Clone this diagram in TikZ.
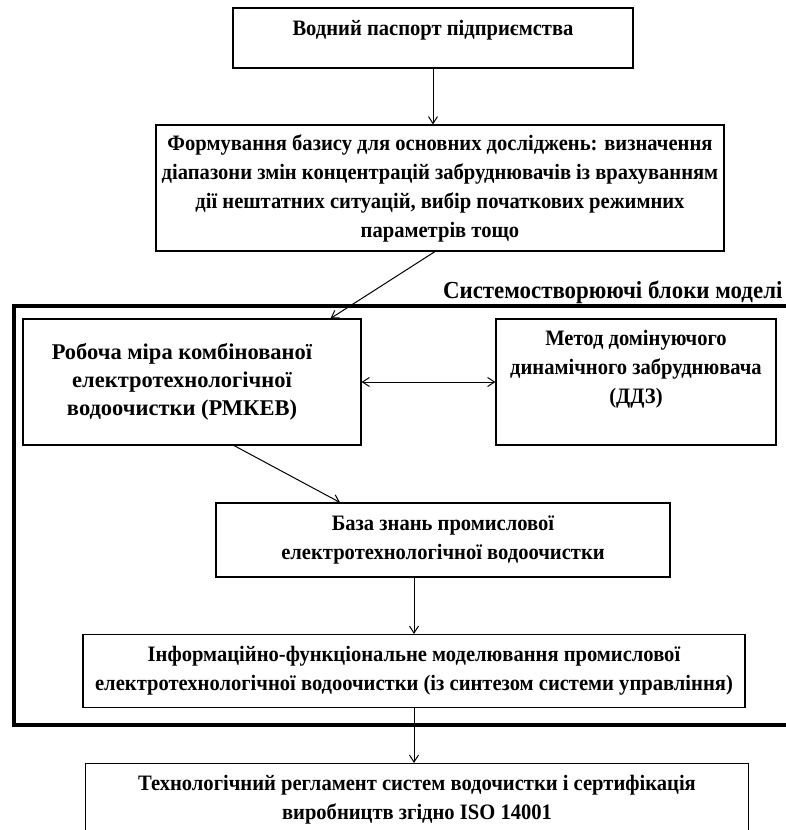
\documentclass[tikz,border=0pt]{standalone}
\usepackage{fontspec}
\setmainfont{Liberation Serif}
\newfontfamily\narrowserif[FakeStretch=0.935]{Liberation Serif}
\usetikzlibrary{arrows.meta}

\begin{document}
\begin{tikzpicture}[x=1pt, y=-1pt,
    >={Straight Barb[length=7pt, width=9pt]},
    box/.style = {draw, line width=1.1pt, align=center, inner sep=0pt,
                  font=\narrowserif\bfseries\fontsize{22}{29}\selectfont},
    arrow/.style = {->, line width=1pt}]
  \useasboundingbox (0,0) rectangle (786,830);

  % upper part
  \node[box, minimum width=400pt, minimum height=60pt, text height=15pt, text depth=20pt] (passport) at (433,38) {Водний паспорт підприємства};
  \node[box, minimum width=568pt, minimum height=126pt] (base) at (440,188)
    {Формування базису для основних досліджень: визначення\\
     діапазони змін концентрацій забруднювачів із врахуванням\\
     дії нештатних ситуацій, вибір початкових режимних\\
     параметрів тощо};

  % system blocks
  \draw[line width=3.5pt] (14,306) rectangle (800,725);
  \node[anchor=base east, font=\narrowserif\bfseries\fontsize{24.5}{28}\selectfont] (heading) at (786,298) {Системостворюючі блоки моделі};
  \node[box, font=\bfseries\fontsize{22.5}{28}\selectfont, minimum width=338pt, minimum height=126pt] (rmkev) at (192,382)
    {\begin{tabular}{@{}c@{\hspace{20pt}}}Робоча міра комбінованої\\ електротехнологічної\\ водоочистки (РМКЕВ)\end{tabular}};
  \node[box] (ddz) at (636,382)
    {\parbox[c][126pt][t]{280pt}{\centering\vspace{11pt}Метод домінуючого\\ динамічного забруднювача\\ (ДДЗ)}};
  \node[box, minimum width=454pt, minimum height=74pt] (znan) at (443,540)
    {База знань промислової\\ електротехнологічної водоочистки};
  \node[box, minimum width=662pt, minimum height=73pt] (info) at (414,671)
    {Інформаційно-функціональне моделювання промислової\\
     електротехнологічної водоочистки (із синтезом системи управління)};

  % result
  \node[box, minimum width=663pt, minimum height=73pt] (tech) at (417,800)
    {Технологічний регламент систем водочистки і сертифікація\\
     виробництв згідно ISO 14001};

  \draw[arrow] (passport.south) -- (passport.south |- base.north);
  \draw[arrow] ([xshift=-5pt]base.south) -- ([xshift=-31pt]rmkev.north east);
  \draw[arrow, <->] (rmkev.east) -- (ddz.west);
  \draw[arrow] ([xshift=42pt]rmkev.south) -- ([xshift=-103pt]znan.north);
  \draw[arrow] (info.north |- znan.south) -- (info.north);
  \draw[arrow] (info.south) -- (info.south |- tech.north);
\end{tikzpicture}
\end{document}
